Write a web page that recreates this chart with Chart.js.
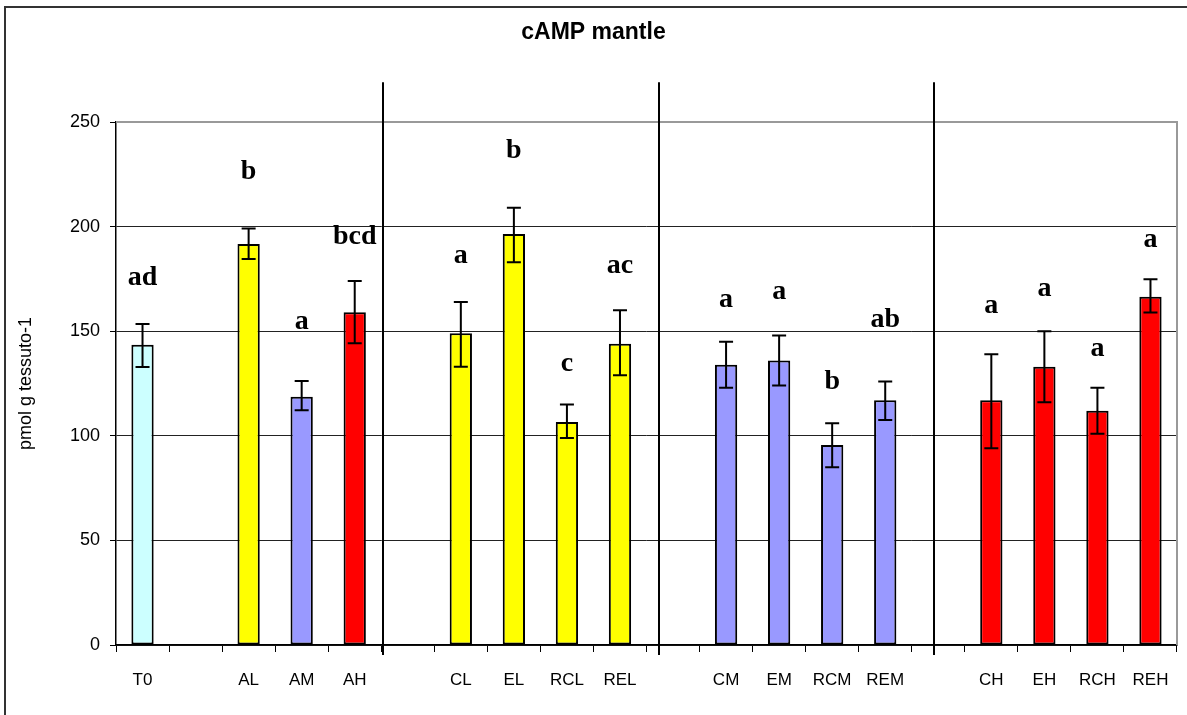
<!DOCTYPE html>
<html>
<head>
<meta charset="utf-8">
<script src="https://cdn.jsdelivr.net/npm/chart.js@4/dist/chart.umd.min.js"></script>
<style>
  html, body { margin: 0; padding: 0; background: #fff; }
  #wrap { width: 1187px; height: 715px; position: relative; }
</style>
</head>
<body>
<div id="wrap"><canvas id="chart"></canvas></div>
<script>
// categories (blank slots are the gaps between groups)
const categories = ['T0', '', 'AL', 'AM', 'AH', '', 'CL', 'EL', 'RCL', 'REL', '', 'CM', 'EM', 'RCM', 'REM', '', 'CH', 'EH', 'RCH', 'REH'];
const means    = [143.5, null, 191.7, 118.7, 159, null, 149, 196.5, 106.6, 144, null, 134, 136, 95.6, 117, null, 117, 133, 112, 166.5];
const errHigh  = [153.4, null, 199.1, 126.2, 174, null, 164, 209, 115, 160, null, 145, 148, 106, 126, null, 139, 150, 123, 174.8];
const errLow   = [132.9, null, 184.5, 112.2, 144.2, null, 133, 183, 99, 129, null, 123, 124, 85, 107.5, null, 94, 116, 101, 158.9];
const letters  = ['ad', '', 'b', 'a', 'bcd', '', 'a', 'b', 'c', 'ac', '', 'a', 'a', 'b', 'ab', '', 'a', 'a', 'a', 'a'];
const letterAt = [175.4, null, 226.1, 154.4, 195, null, 186, 236.1, 134.3, 181.2, null, 164.9, 168.7, 125.7, 155.4, null, 162, 170.2, 141.5, 193.6];
const barColors = ['#CCFFFF', null, '#FFFF00', '#9999FF', '#FF0000', null, '#FFFF00', '#FFFF00', '#FFFF00', '#FFFF00', null,
                   '#9999FF', '#9999FF', '#9999FF', '#9999FF', null, '#FF0000', '#FF0000', '#FF0000', '#FF0000'];
const yTicks = [0, 50, 100, 150, 200, 250];
const separatorAt = [4.54, 9.73, 14.92];

const sans = '"Liberation Sans", Arial, sans-serif';
const serif = '"Liberation Serif", "Times New Roman", serif';

const decorations = {
    id: 'decorations',
    beforeDraw(chart) {
        const ctx = chart.ctx;
        ctx.save();
        ctx.strokeStyle = '#333';
        ctx.lineWidth = 2;
        ctx.strokeRect(5, 7, chart.width + 20, chart.height + 20);
        ctx.restore();
    },
    afterDatasetsDraw(chart) {
        const ctx = chart.ctx;
        const x = chart.scales.x, y = chart.scales.y;
        const area = chart.chartArea;
        ctx.save();

        // plot frame (top/right grey)
        ctx.strokeStyle = '#999';
        ctx.lineWidth = 2;
        ctx.beginPath();
        ctx.moveTo(area.left, area.top);
        ctx.lineTo(area.right, area.top);
        ctx.lineTo(area.right, area.bottom);
        ctx.stroke();

        // error bars
        ctx.strokeStyle = '#000';
        ctx.lineWidth = 2;
        means.forEach((m, i) => {
            if (m === null) return;
            const px = x.getPixelForValue(i);
            const hi = y.getPixelForValue(errHigh[i]);
            const lo = y.getPixelForValue(errLow[i]);
            ctx.beginPath();
            ctx.moveTo(px, hi); ctx.lineTo(px, lo);
            ctx.moveTo(px - 7, hi); ctx.lineTo(px + 7, hi);
            ctx.moveTo(px - 7, lo); ctx.lineTo(px + 7, lo);
            ctx.stroke();
        });

        // group separators
        ctx.lineWidth = 2;
        separatorAt.forEach(v => {
            const px = Math.round(x.getPixelForValue(v));
            ctx.beginPath();
            ctx.moveTo(px, y.getPixelForValue(269));
            ctx.lineTo(px, area.bottom + 10);
            ctx.stroke();
        });

        // significance letters
        ctx.fillStyle = '#000';
        ctx.font = 'bold 28px ' + serif;
        ctx.textAlign = 'center';
        ctx.textBaseline = 'middle';
        letters.forEach((t, i) => {
            if (!t) return;
            ctx.fillText(t, x.getPixelForValue(i), y.getPixelForValue(letterAt[i]));
        });

        // title
        ctx.font = 'bold 23px ' + sans;
        ctx.fillText('cAMP mantle', chart.width / 2, 33);

        // y axis title
        ctx.font = '18px ' + sans;
        ctx.translate(26, (area.top + area.bottom) / 2);
        ctx.rotate(-Math.PI / 2);
        ctx.fillText('pmol g tessuto-1', 0, 0);
        ctx.restore();
    }
};

new Chart(document.getElementById('chart'), {
    type: 'bar',
    data: {
        labels: categories,
        datasets: [{
            data: means,
            backgroundColor: barColors,
            borderColor: '#000',
            borderWidth: 2,
            borderSkipped: false,
            barPercentage: 0.42,
            categoryPercentage: 1
        }]
    },
    options: {
        responsive: true,
        maintainAspectRatio: false,
        animation: false,
        layout: { padding: { left: 0, right: 10, top: 122, bottom: 0 } },
        plugins: {
            legend: { display: false },
            title: { display: false },
            tooltip: { enabled: false }
        },
        scales: {
            x: {
                grid: {
                    offset: true,
                    drawOnChartArea: false,
                    color: '#000',
                    tickLength: 7
                },
                border: { color: '#000', width: 1.5 },
                ticks: {
                    color: '#000',
                    font: { family: sans, size: 17 },
                    padding: 18,
                    maxRotation: 0,
                    autoSkip: false
                },
                afterFit: scale => { scale.height = 70; }
            },
            y: {
                min: 0,
                max: 250,
                afterBuildTicks: scale => { scale.ticks = yTicks.map(v => ({ value: v })); },
                grid: {
                    color: ctx => ctx.tick && ctx.tick.value === 250 ? 'rgba(0,0,0,0)' : '#222',
                    lineWidth: 1,
                    tickColor: '#000',
                    tickLength: 6
                },
                border: { color: '#000', width: 1.5 },
                ticks: {
                    color: '#000',
                    font: { family: sans, size: 18 },
                    padding: 10
                },
                afterFit: scale => { scale.width = 116; }
            }
        }
    },
    plugins: [decorations]
});
</script>
</body>
</html>
